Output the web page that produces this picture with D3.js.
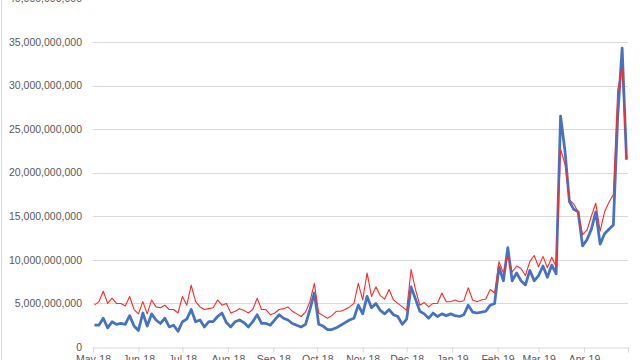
<!DOCTYPE html>
<html lang="en">
  <head>
    <meta charset="UTF-8" />
    <script src="https://d3js.org/d3.v7.min.js"></script>
    <title>Volume</title>
    <style>
      body { margin: 0; background: #fff; }
      svg { display: block; }
    </style>
  </head>
  <body>
    <script>
      // values in billions, one every 3 days starting 2 May 2018
      const startDate = new Date(2018, 4, 2);
      const stepDays = 3;
      const redSeries = [
        4.8, 5.2, 6.4, 5.0, 5.6, 5.0, 5.0, 4.7, 5.8, 4.3,
        3.8, 5.2, 3.8, 5.4, 4.6, 4.5, 4.8, 4.3, 4.3, 3.9,
        5.8, 4.8, 7.1, 5.2, 4.6, 4.3, 4.4, 4.5, 5.4, 4.8,
        5.0, 3.9, 4.1, 4.4, 4.2, 3.9, 4.3, 5.6, 4.3, 4.3,
        3.7, 3.9, 4.3, 4.4, 4.6, 4.1, 3.8, 3.5, 4.0, 5.2,
        7.3, 3.9, 3.6, 3.3, 3.6, 4.1, 4.1, 4.3, 4.6, 5.0,
        7.3, 5.4, 8.5, 5.8, 6.9, 5.9, 5.5, 6.6, 5.4, 5.0,
        4.6, 4.2, 8.9, 6.6, 4.8, 5.1, 4.6, 5.0, 5.0, 6.2,
        5.2, 5.2, 5.4, 5.2, 5.3, 6.8, 5.4, 5.2, 5.4, 5.5,
        6.6, 6.2, 9.8, 8.5, 10.5, 8.6, 9.3, 9.0, 8.2, 9.8,
        10.5, 9.2, 10.4, 9.1, 10.3, 9.2, 22.7, 21.0, 16.9, 16.4,
        15.5, 12.9, 13.4, 15.0, 16.5, 13.3, 15.5, 16.6, 17.5, 29.5,
        32.0, 21.5
      ];
      const blueSeries = [
        2.5, 2.5, 3.3, 2.2, 2.9, 2.6, 2.7, 2.6, 3.6, 2.4,
        1.9, 3.9, 2.4, 3.8, 3.1, 2.7, 3.3, 2.3, 2.5, 1.8,
        2.9, 3.2, 4.3, 2.9, 3.1, 2.3, 2.9, 2.9, 3.5, 3.9,
        2.8, 2.3, 2.9, 3.1, 2.8, 2.3, 2.9, 3.7, 2.7, 2.7,
        2.5, 3.1, 3.7, 3.3, 3.1, 2.7, 2.5, 2.3, 2.6, 4.3,
        6.2, 2.6, 2.4, 2.0, 2.0, 2.2, 2.5, 2.8, 3.1, 3.3,
        4.8, 3.8, 5.8, 4.5, 5.0, 4.2, 3.8, 4.3, 3.7, 3.5,
        2.6, 3.2, 6.9, 5.5, 4.1, 3.8, 3.3, 3.9, 3.5, 3.8,
        3.6, 3.8, 3.6, 3.5, 3.7, 4.8, 4.0, 3.9, 4.0, 4.1,
        4.8, 5.0, 9.2, 7.6, 11.4, 7.6, 8.5, 7.6, 7.1, 8.8,
        7.6, 8.2, 9.3, 8.0, 9.4, 8.4, 26.5, 22.5, 16.7, 15.8,
        15.5, 11.6, 12.3, 13.5, 15.5, 11.8, 13.0, 13.5, 14.0, 26.5,
        34.3, 21.5
      ];
      const yTicks = [0, 5e9, 10e9, 15e9, 20e9, 25e9, 30e9, 35e9, 40e9];

      const dates = redSeries.map((d, i) => d3.timeDay.offset(startDate, i * stepDays));

      const width = 640, height = 360;
      const svg = d3.select("body").append("svg")
        .attr("width", width)
        .attr("height", height);

      const x = d3.scaleTime()
        .domain([new Date(2018, 4, 1), new Date(2019, 4, 1)])
        .range([93, 628]);
      const y = d3.scaleLinear()
        .domain([0, 40e9])
        .range([347, -1.6]);

      // faint chart border on the left
      svg.append("line")
        .attr("x1", 1.5).attr("x2", 1.5)
        .attr("y1", 0).attr("y2", height)
        .attr("stroke", "#d9d9d9");

      // gridlines
      svg.append("g")
        .selectAll("line")
        .data(yTicks.filter((d) => d > 0))
        .join("line")
        .attr("x1", 93).attr("x2", 628)
        .attr("y1", (d) => Math.round(y(d)) + 0.5)
        .attr("y2", (d) => Math.round(y(d)) + 0.5)
        .attr("stroke", "#d9d9d9");

      // y labels
      svg.append("g")
        .selectAll("text")
        .data(yTicks)
        .join("text")
        .attr("x", 82)
        .attr("y", (d) => y(d))
        .attr("dy", "0.35em")
        .attr("text-anchor", "end")
        .attr("font-family", "Liberation Sans, Arial, sans-serif")
        .attr("font-size", 10.5)
        .attr("fill", "#595959")
        .text((d) => d3.format(",")(d));

      // x axis
      const axisX = d3.axisBottom(x)
        .ticks(d3.timeMonth.every(1))
        .tickSize(5)
        .tickPadding(3)
        .tickFormat(d3.timeFormat("%b-%y"));
      const gx = svg.append("g")
        .attr("transform", "translate(0,347.5)")
        .call(axisX);
      gx.select(".domain").attr("stroke", "#d9d9d9");
      gx.selectAll(".tick line").attr("stroke", "#d9d9d9");
      gx.selectAll(".tick text")
        .attr("font-family", "Liberation Sans, Arial, sans-serif")
        .attr("font-size", 10.5)
        .attr("fill", "#595959");
      gx.selectAll(".tick").filter((d) => d >= new Date(2019, 4, 1)).select("text").remove();

      const lineFor = (vals) => d3.line()
        .x((d, i) => x(dates[i]))
        .y((d) => y(d * 1e9))(vals);

      svg.append("path")
        .attr("d", lineFor(blueSeries))
        .attr("fill", "none")
        .attr("stroke", "#4472c4")
        .attr("stroke-width", 2.75)
        .attr("stroke-linejoin", "round");

      svg.append("path")
        .attr("d", lineFor(redSeries))
        .attr("fill", "none")
        .attr("stroke", "#ff2a2a")
        .attr("stroke-width", 1.1)
        .attr("stroke-linejoin", "round");
    </script>
  </body>
</html>
